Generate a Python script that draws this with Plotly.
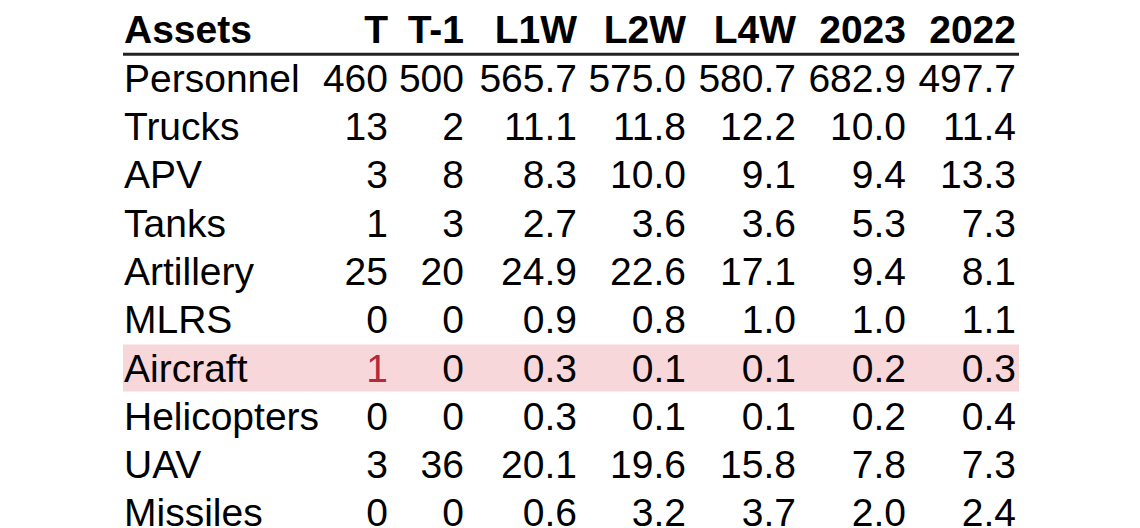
import plotly.graph_objects as go

# table contents
assets = ["Personnel", "Trucks", "APV", "Tanks", "Artillery", "MLRS",
          "Aircraft", "Helicopters", "UAV", "Missiles"]
columns = ["T", "T-1", "L1W", "L2W", "L4W", "2023", "2022"]
col_t = [460, 13, 3, 1, 25, 0, 1, 0, 3, 0]
col_t1 = [500, 2, 8, 3, 20, 0, 0, 0, 36, 0]
col_l1w = [565.7, 11.1, 8.3, 2.7, 24.9, 0.9, 0.3, 0.3, 20.1, 0.6]
col_l2w = [575.0, 11.8, 10.0, 3.6, 22.6, 0.8, 0.1, 0.1, 19.6, 3.2]
col_l4w = [580.7, 12.2, 9.1, 3.6, 17.1, 1.0, 0.1, 0.1, 15.8, 3.7]
col_2023 = [682.9, 10.0, 9.4, 5.3, 9.4, 1.0, 0.2, 0.2, 7.8, 2.0]
col_2022 = [497.7, 11.4, 13.3, 7.3, 8.1, 1.1, 0.3, 0.4, 7.3, 2.4]
highlight_row = "Aircraft"

values = [col_t, col_t1, col_l1w, col_l2w, col_l4w, col_2023, col_2022]
decimals = [0, 0, 1, 1, 1, 1, 1]

# layout (pixel-ish x axis, row index y axis)
W, H = 1140, 528
row_h = 48.3
first_row_px = 78
left_x = 124
right_edges = [388, 464, 577, 686, 796, 906, 1016]
FONT = "Liberation Sans, Arial, sans-serif"
FS = 39

hi = assets.index(highlight_row)
# text sits a bit high with "middle" anchoring, nudge it down a few px
text_dy = 4 / row_h
rows = [i + text_dy for i in range(len(assets))]
header_y = -(first_row_px - 28 - 5) / row_h

fig = go.Figure()

# highlighted row band
fig.add_shape(type="rect", xref="x", yref="y", x0=left_x - 1, x1=1019,
              y0=hi - 0.48, y1=hi + 0.49, fillcolor="#f8d7da",
              line_width=0, layer="below")
# header rule
fig.add_shape(type="line", xref="x", yref="y", x0=left_x - 1, x1=1019,
              y0=-0.49, y1=-0.49, line=dict(color="#222222", width=3))

# header
fig.add_trace(go.Scatter(x=[left_x], y=[header_y], mode="text", text=["<b>Assets</b>"],
                         textposition="middle right", textfont=dict(family=FONT, size=FS, color="black"),
                         hoverinfo="skip"))
fig.add_trace(go.Scatter(x=right_edges, y=[header_y] * len(columns), mode="text",
                         text=[f"<b>{c}</b>" for c in columns], textposition="middle left",
                         textfont=dict(family=FONT, size=FS, color="black"), hoverinfo="skip"))

# asset names
fig.add_trace(go.Scatter(x=[left_x] * len(assets), y=rows, mode="text", text=assets,
                         textposition="middle right", textfont=dict(family=FONT, size=FS, color="black"),
                         hoverinfo="skip"))

# numeric columns
for ci, (vals, dec, xr) in enumerate(zip(values, decimals, right_edges)):
    colors = ["black"] * len(vals)
    if ci == 0:
        colors[hi] = "#b52a3a"
    fig.add_trace(go.Scatter(x=[xr] * len(vals), y=rows, mode="text",
                             text=[f"{v:.{dec}f}" for v in vals], textposition="middle left",
                             textfont=dict(family=FONT, size=FS, color=colors), hoverinfo="skip"))

fig.update_traces(marker=dict(size=0))
fig.update_layout(
    width=W, height=H, margin=dict(l=0, r=0, t=0, b=0),
    paper_bgcolor="white", plot_bgcolor="white", showlegend=False,
    xaxis=dict(range=[0, W], visible=False, fixedrange=True),
    yaxis=dict(range=[(H - first_row_px) / row_h, -first_row_px / row_h],
               visible=False, fixedrange=True),
)
fig.write_html("out.html", config={"displayModeBar": False},
               post_script="document.body.style.margin='0';document.body.style.overflow='hidden';")
